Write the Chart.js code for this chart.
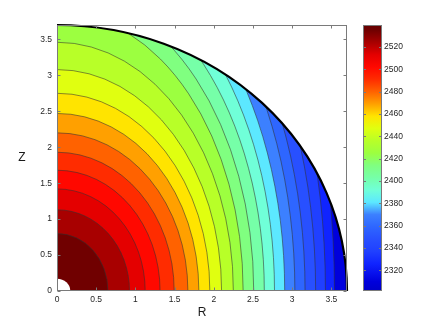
<!DOCTYPE html>
<html>
<head>
<meta charset="utf-8">
<script src="https://cdn.jsdelivr.net/npm/chart.js@4"></script>
<style>
  html, body { margin: 0; padding: 0; background: #fff; }
</style>
</head>
<body>
<canvas id="chart" width="436" height="328"></canvas>
<script>
// =====================
// DATA
// =====================
// contour lines, from the centre outwards: where each one crosses Z = 0 ...
const rIntercepts = [0.65, 0.925, 1.125, 1.315, 1.495, 1.67, 1.81, 1.95, 2.10, 2.25,
                     2.375, 2.51, 2.645, 2.775, 2.905, 3.035, 3.165, 3.30, 3.425, 3.54];
// ... and where it crosses R = 0 (outer ones run into the domain edge first)
const zIntercepts = [0.80, 1.13, 1.42, 1.68, 1.93, 2.20, 2.47, 2.75, 3.08, 3.46,
                     3.88, 4.17, 4.46, 4.76, 5.02, 5.36, 5.57, 5.94, 6.6, 7.2];
// value of each filled band, centre outwards (one more band than lines)
const bandLevels = [2535, 2524, 2513, 2502, 2491, 2480, 2469, 2458, 2447, 2436, 2425,
                    2414, 2403, 2392, 2381, 2370, 2359, 2348, 2337, 2326, 2310];
const domainRadius = 3.7;
const holeRadius = 0.17;

const rTicks = [0, 0.5, 1, 1.5, 2, 2.5, 3, 3.5];
const zTicks = [0, 0.5, 1, 1.5, 2, 2.5, 3, 3.5];
const cbMin = 2301.6;
const cbMax = 2539.6;
const cbTicks = [2320, 2340, 2360, 2380, 2400, 2420, 2440, 2460, 2480, 2500, 2520];

// =====================
// COLOUR MAP (jet-like, as printed)
// =====================
const cmap = [
  [2301.6, "#0000c8"], [2310, "#0000dc"], [2326, "#1024ff"], [2337, "#2040ff"],
  [2348, "#2850ff"], [2359, "#2e66ff"], [2370, "#3c80ff"], [2381, "#5ce8ff"],
  [2392, "#70ffd8"], [2403, "#76ffa8"], [2414, "#80ff80"], [2425, "#9cff40"],
  [2436, "#b8ff28"], [2447, "#e0ff10"], [2458, "#ffe400"], [2469, "#ffa000"],
  [2480, "#ff6200"], [2491, "#ff2c00"], [2502, "#ff0800"], [2513, "#e40000"],
  [2524, "#a80000"], [2535, "#700000"], [2539.6, "#640000"]
];

function hexRgb(h) {
  return [1, 3, 5].map(i => parseInt(h.substr(i, 2), 16));
}

function colorAt(v) {
  if (v <= cmap[0][0]) return cmap[0][1];
  for (let i = 1; i < cmap.length; i++) {
    if (v <= cmap[i][0]) {
      const [v0, c0] = cmap[i - 1];
      const [v1, c1] = cmap[i];
      const t = (v - v0) / (v1 - v0);
      const a = hexRgb(c0), b = hexRgb(c1);
      const c = a.map((x, k) => Math.round(x + (b[k] - x) * t));
      return `rgb(${c[0]},${c[1]},${c[2]})`;
    }
  }
  return cmap[cmap.length - 1][1];
}

// =====================
// CONTOUR + FRAME PLUGIN
// =====================
const contourPlugin = {
  id: "contours",
  beforeDatasetsDraw(chart) {
    const { ctx, chartArea, scales: { x, y } } = chart;
    const x0 = x.getPixelForValue(0);
    const y0 = y.getPixelForValue(0);
    const rx = v => x.getPixelForValue(v) - x0;
    const ry = v => y0 - y.getPixelForValue(v);

    ctx.save();
    // clip to the quarter domain
    ctx.beginPath();
    ctx.moveTo(x0, y0);
    ctx.ellipse(x0, y0, rx(domainRadius), ry(domainRadius), 0, -Math.PI / 2, 0);
    ctx.closePath();
    ctx.clip();

    // outermost band, then each contour from outside in
    ctx.fillStyle = colorAt(bandLevels[bandLevels.length - 1]);
    ctx.fillRect(chartArea.left, chartArea.top, chartArea.width, chartArea.height);
    for (let k = rIntercepts.length - 1; k >= 0; k--) {
      ctx.beginPath();
      ctx.moveTo(x0, y0);
      ctx.ellipse(x0, y0, rx(rIntercepts[k]), ry(zIntercepts[k]), 0, -Math.PI / 2, 0);
      ctx.closePath();
      ctx.fillStyle = colorAt(bandLevels[k]);
      ctx.fill();
    }

    // contour lines
    ctx.strokeStyle = "rgba(50,50,50,0.7)";
    ctx.lineWidth = 0.8;
    rIntercepts.forEach((a, k) => {
      ctx.beginPath();
      ctx.ellipse(x0, y0, rx(a), ry(zIntercepts[k]), 0, -Math.PI / 2, 0);
      ctx.stroke();
    });
    ctx.restore();

    // hole at the origin
    ctx.save();
    ctx.beginPath();
    ctx.moveTo(x0, y0);
    ctx.ellipse(x0, y0, rx(holeRadius), ry(holeRadius), 0, -Math.PI / 2, 0);
    ctx.closePath();
    ctx.fillStyle = "#ffffff";
    ctx.fill();

    // domain edge
    ctx.beginPath();
    ctx.ellipse(x0, y0, rx(domainRadius), ry(domainRadius), 0, -Math.PI / 2, 0);
    ctx.strokeStyle = "#000000";
    ctx.lineWidth = 2.2;
    ctx.stroke();
    ctx.restore();
  },

  afterDatasetsDraw(chart) {
    const { ctx, chartArea: ca, scales: { x, y, cb } } = chart;
    ctx.save();
    ctx.strokeStyle = "#7a7a7a";
    ctx.lineWidth = 1;
    const L = Math.round(ca.left) + 0.5, R = Math.round(ca.right) - 0.5;
    const T = Math.round(ca.top) + 0.5, B = Math.round(ca.bottom) - 0.5;
    ctx.strokeRect(L, T, R - L, B - T);

    // inward ticks on all four sides
    ctx.beginPath();
    rTicks.forEach(v => {
      const px = Math.round(x.getPixelForValue(v)) + 0.5;
      ctx.moveTo(px, B); ctx.lineTo(px, B - 3);
      ctx.moveTo(px, T); ctx.lineTo(px, T + 3);
    });
    zTicks.forEach(v => {
      const py = Math.round(y.getPixelForValue(v)) + 0.5;
      ctx.moveTo(L, py); ctx.lineTo(L + 3, py);
      ctx.moveTo(R, py); ctx.lineTo(R - 3, py);
    });
    ctx.stroke();

    // colour bar
    const cbL = Math.round(cb.left) + 16, cbW = 19;
    const yTop = cb.getPixelForValue(cbMax), yBot = cb.getPixelForValue(cbMin);
    const grad = ctx.createLinearGradient(0, yBot, 0, yTop);
    cmap.forEach(([v, c]) => grad.addColorStop((v - cbMin) / (cbMax - cbMin), c));
    ctx.fillStyle = grad;
    ctx.fillRect(cbL, yTop, cbW, yBot - yTop);
    ctx.strokeRect(cbL + 0.5, Math.round(yTop) + 0.5, cbW - 1, Math.round(yBot - yTop) - 1);
    ctx.beginPath();
    cbTicks.forEach(v => {
      const py = Math.round(cb.getPixelForValue(v)) + 0.5;
      ctx.moveTo(cbL, py); ctx.lineTo(cbL + 3, py);
      ctx.moveTo(cbL + cbW, py); ctx.lineTo(cbL + cbW - 3, py);
    });
    ctx.stroke();

    // Z label, upright
    ctx.fillStyle = "#1a1a1a";
    ctx.font = "12px 'Liberation Sans', Arial, sans-serif";
    ctx.textAlign = "center";
    ctx.textBaseline = "middle";
    ctx.fillText("Z", 22, (ca.top + ca.bottom) / 2);
    ctx.restore();
  }
};

// =====================
// CHART
// =====================
const tickFont = { family: "'Liberation Sans', Arial, sans-serif", size: 8.5 };
const titleFont = { family: "'Liberation Sans', Arial, sans-serif", size: 12 };

function fixSize(prop, size) {
  return axis => {
    axis[prop] = size;
    axis.paddingLeft = axis.paddingRight = axis.paddingTop = axis.paddingBottom = 0;
  };
}

new Chart(document.getElementById("chart"), {
  type: "scatter",
  data: { datasets: [] },
  plugins: [contourPlugin],
  options: {
    responsive: false,
    animation: false,
    devicePixelRatio: 1,
    layout: { padding: { top: 25, left: 0, right: 0, bottom: 0 } },
    plugins: { legend: { display: false }, tooltip: { enabled: false } },
    scales: {
      x: {
        type: "linear",
        min: 0,
        max: domainRadius,
        afterBuildTicks: axis => { axis.ticks = rTicks.map(v => ({ value: v })); },
        afterFit: fixSize("height", 37),
        grid: { display: false, drawTicks: false },
        border: { display: false },
        ticks: { padding: 4, color: "#262626", font: tickFont, callback: v => String(v), maxRotation: 0 },
        title: { display: true, text: "R", color: "#1a1a1a", font: titleFont, padding: { top: 0, bottom: 8 } }
      },
      y: {
        type: "linear",
        min: 0,
        max: domainRadius,
        afterBuildTicks: axis => { axis.ticks = zTicks.map(v => ({ value: v })); },
        afterFit: fixSize("width", 57),
        grid: { display: false, drawTicks: false },
        border: { display: false },
        ticks: { padding: 5, color: "#262626", font: tickFont, callback: v => String(v) }
      },
      cb: {
        type: "linear",
        position: "right",
        min: cbMin,
        max: cbMax,
        afterBuildTicks: axis => { axis.ticks = cbTicks.map(v => ({ value: v })); },
        afterFit: fixSize("width", 89),
        grid: { display: false, drawTicks: false },
        border: { display: false },
        ticks: { padding: 37, color: "#262626", font: tickFont, callback: v => String(v) }
      }
    }
  }
});
</script>
</body>
</html>
